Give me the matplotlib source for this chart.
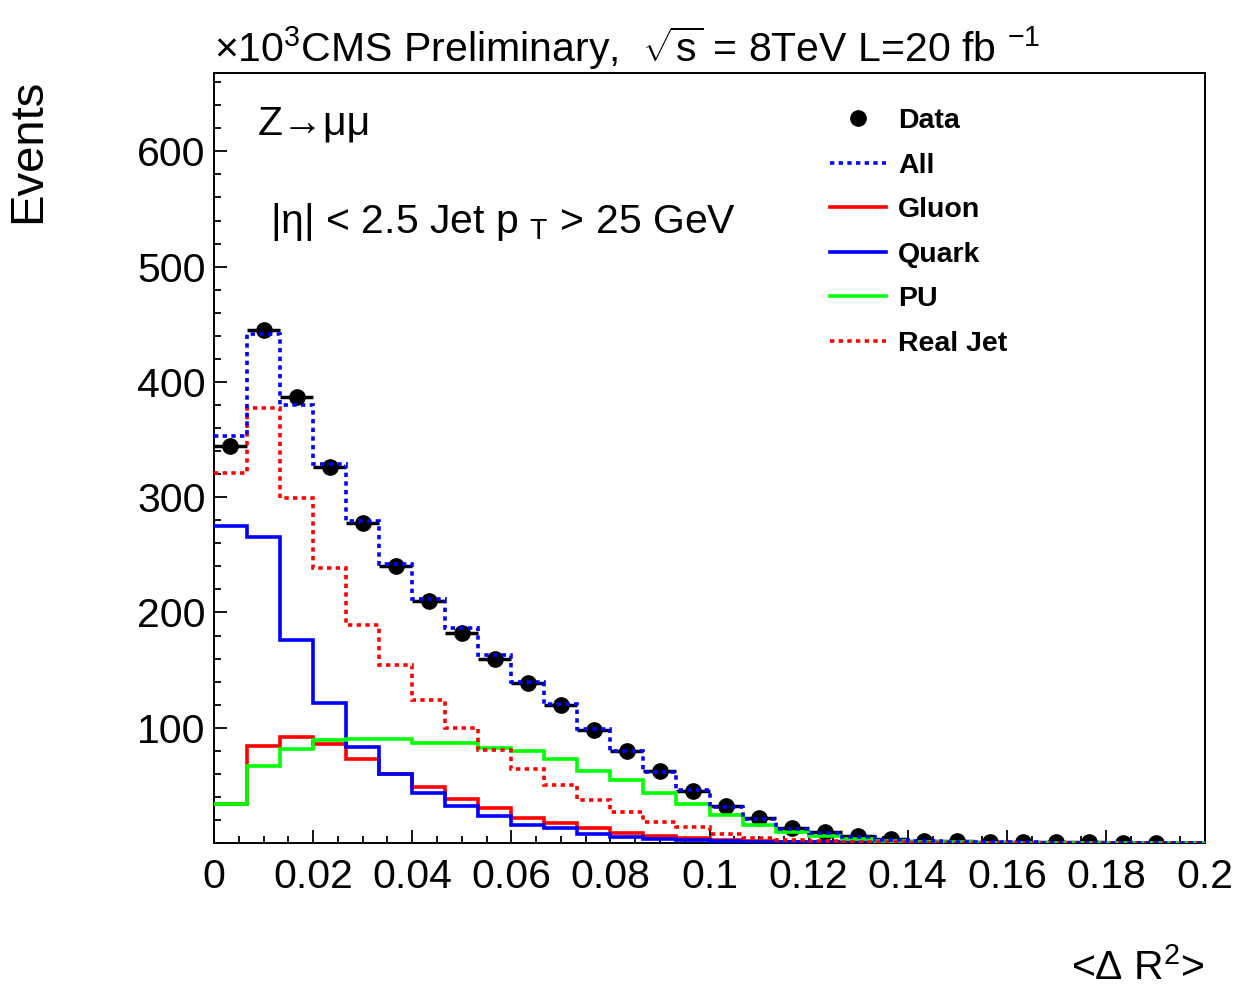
import numpy as np
import matplotlib
matplotlib.use("Agg")
import matplotlib.pyplot as plt
from matplotlib.lines import Line2D
from matplotlib.ticker import MultipleLocator

# bin contents (x 10^3 events), 30 bins from 0 to 0.2
bin_edges = np.linspace(0, 0.2, 31)
data = [344, 444.8, 387, 326, 278, 240.3, 210, 182.5, 159.9, 138.4, 119.5, 98, 79.5, 62.6, 45.5,
        32.3, 21.3, 12.7, 9.2, 5.8, 3.5, 2.0, 1.4, 1.0, 0.8, 0.6, 0.5, 0.4, 0.3, 0]
all_mc = [353.5, 441.6, 380, 329, 279.3, 241.8, 211.4, 186.9, 163.2, 139.8, 120.5, 98.8, 80, 61.8, 46.2,
          30.9, 20.8, 12.1, 8.4, 4.9, 2.6, 1.6, 1.0, 0.7, 0.5, 0.4, 0.3, 0.2, 0.1, 0.1]
gluon = [33.5, 83.8, 92, 85.8, 72.8, 59.5, 48.3, 38.1, 30.1, 22, 17.3, 12.7, 8.4, 5.8, 4.0,
         2.8, 1.9, 1.2, 0.8, 0.5, 0.3, 0.2, 0.1, 0.1, 0.05, 0, 0, 0, 0, 0]
quark = [275, 265.8, 176.2, 121.3, 83.4, 59.8, 43.3, 31.8, 23.7, 15.9, 12.7, 7.5, 5.5, 3.5, 2.2,
         1.5, 1.0, 0.7, 0.5, 0.3, 0.2, 0.1, 0.1, 0.05, 0.05, 0, 0, 0, 0, 0]
pu = [33.8, 66.5, 81.5, 89.5, 90.5, 90.3, 87.2, 87.2, 82.3, 79.4, 72.8, 62.6, 54.8, 43.3, 33.8,
      24.3, 15.6, 9.2, 6.3, 3.5, 2.0, 1.2, 0.6, 0.3, 0.2, 0.1, 0.05, 0, 0, 0]
real_jet = [320.8, 377.4, 299.2, 238.9, 189.2, 154.5, 124.5, 100.2, 81.0, 64.1, 50.3, 37.4, 27.1, 17.9, 13.5,
            7.5, 4.6, 2.8, 1.8, 1.0, 0.6, 0.3, 0.2, 0.1, 0.05, 0, 0, 0, 0, 0]

xticks = np.arange(0, 0.2001, 0.02)
yticks = [100, 200, 300, 400, 500, 600]

plt.rcParams['font.family'] = ['Liberation Sans', 'DejaVu Sans']
plt.rcParams['mathtext.fontset'] = 'custom'
plt.rcParams['mathtext.rm'] = 'Liberation Sans'
plt.rcParams['mathtext.it'] = 'Liberation Sans:italic'
plt.rcParams['mathtext.bf'] = 'Liberation Sans:bold'

fs = 29.5
fig = plt.figure(figsize=(12.36, 9.86), dpi=100)
ax = fig.add_axes([0.1731, 0.145, 0.8019, 0.781])

centers = 0.5 * (bin_edges[1:] + bin_edges[:-1])
half_w = 0.5 * np.diff(bin_edges)
d = np.array(data, dtype=float)
keep = d > 0
ax.errorbar(centers[keep], d[keep], xerr=half_w[keep], yerr=np.sqrt(d[keep] / 1000.0),
            fmt='o', color='black', ms=11, elinewidth=2.5, capsize=0, zorder=2)

lw = 2.6
dots = (0, (1.2, 1.2))
ax.stairs(gluon, bin_edges, baseline=None, color='#ff0000', lw=lw, zorder=3)
ax.stairs(quark, bin_edges, baseline=None, color='#0000ff', lw=lw, zorder=4)
ax.stairs(pu, bin_edges, baseline=None, color='#00ff00', lw=lw, zorder=5)
ax.stairs(real_jet, bin_edges, baseline=None, color='#ff0000', lw=lw, ls=dots, zorder=6)
ax.stairs(all_mc, bin_edges, baseline=None, color='#0000ff', lw=lw, ls=dots, zorder=7)

ax.set_xlim(0, 0.2)
ax.set_ylim(0, 668)
ax.set_xticks(xticks)
ax.set_xticklabels(['%g' % v for v in xticks])
ax.set_yticks(yticks)
ax.xaxis.set_minor_locator(MultipleLocator(0.005))
ax.yaxis.set_minor_locator(MultipleLocator(20))
ax.tick_params(which='both', direction='in', top=False, right=False, width=1.3, labelsize=fs)
ax.tick_params(which='major', length=9.5)
ax.tick_params(which='minor', length=5)
ax.tick_params(axis='x', pad=11)
ax.tick_params(axis='y', pad=6)
for s in ax.spines.values():
    s.set_linewidth(1.4)

fig.text(0.1731, 1 - 62 / 986,
         r'$\times$10$^{3}$CMS Preliminary,  $\sqrt{\mathrm{s}}$ = 8TeV L=20 fb $^{-1}$',
         fontsize=fs, va='baseline', ha='left')
fig.text(0.023, 1 - 79 / 986, 'Events', rotation=90, fontsize=34, ha='center', va='top')
fig.text(0.975, 1 - 980 / 986, r'<$\Delta$ R$^{2}$>', fontsize=fs, ha='right', va='baseline')
fig.text(258 / 1236, 1 - 135 / 986, 'Z→μμ', fontsize=fs, va='baseline')
fig.text(270 / 1236, 1 - 233 / 986, r'|η| < 2.5 Jet p $_{\mathrm{T}}$ > 25 GeV', fontsize=fs, va='baseline')

handles = [
    Line2D([], [], marker='o', color='black', ls='none', ms=11),
    Line2D([], [], color='#0000ff', lw=lw, ls=dots),
    Line2D([], [], color='#ff0000', lw=lw),
    Line2D([], [], color='#0000ff', lw=lw),
    Line2D([], [], color='#00ff00', lw=lw),
    Line2D([], [], color='#ff0000', lw=lw, ls=dots),
]
labels = ['Data', 'All', 'Gluon', 'Quark', 'PU', 'Real Jet']
fig.legend(handles, labels, loc='upper left', bbox_to_anchor=(830 / 1236, 1 - 108 / 986),
           frameon=False, borderpad=0, borderaxespad=0, handlelength=1.95, handletextpad=0.45,
           labelspacing=0.65, prop={'weight': 'bold', 'size': 20.5})

fig.savefig('out.png', dpi=100)
